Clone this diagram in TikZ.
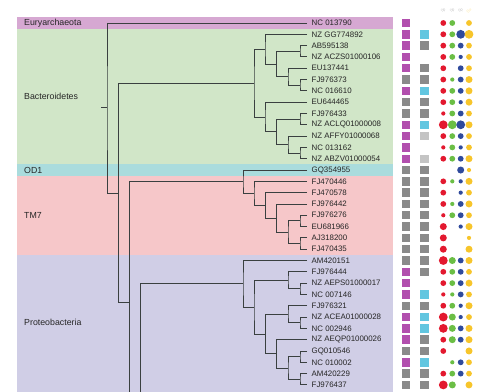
\documentclass[tikz,border=0pt]{standalone}
\usepackage{fontspec}
\setmainfont{Liberation Sans}
\usetikzlibrary{positioning}

\definecolor{bandEury}{HTML}{D6A8D2}
\definecolor{bandBact}{HTML}{D1E6C8}
\definecolor{bandOD}{HTML}{AADCDD}
\definecolor{bandTM}{HTML}{F6C7C9}
\definecolor{bandProt}{HTML}{D0CEE6}
\definecolor{treeline}{HTML}{3A4040}
\definecolor{sqM}{HTML}{B24FAE}
\definecolor{sqG}{HTML}{8A8A8A}
\definecolor{sqC}{HTML}{62C6E0}
\definecolor{sqL}{HTML}{C4C4C4}
\definecolor{dotred}{HTML}{E3192F}
\definecolor{dotgreen}{HTML}{6BBE45}
\definecolor{dotblue}{HTML}{2F4A9C}
\definecolor{dotyellow}{HTML}{F7C52B}

% one abundance dot: colour, x, row, size level 0..4
\newcommand\spot[4]{%
  \ifnum#4>0
    \pgfmathsetmacro\spotsize{{0,4.2,5.8,7.0,8.8}[#4]}%
    \node[circle, inner sep=0pt, fill=#1, minimum size=\spotsize pt] (d#1#3) at (#2,#3) {};%
  \fi}

\begin{document}
\begin{tikzpicture}[
  x=1pt, y=-11.31pt,
  branch/.style={draw=treeline, line width=0.9pt},
  leaf/.style={anchor=west, inner xsep=4.5pt, inner ysep=0pt, font=\fontsize{7.9}{8}\selectfont, text=black!85},
  clade/.style={anchor=west, inner sep=0pt, font=\fontsize{8.8}{10}\selectfont, text=black!85},
  sq/.style={minimum size=8.4pt, inner sep=0pt},
  hdr/.style={rotate=45, inner sep=0pt, font=\fontsize{4}{4}\selectfont},
]
  \clip (0,-2.034) rectangle (499,32.54);

  % colour bands
  \fill[bandEury] (17,-0.5) rectangle (393,0.5);
  \fill[bandBact] (17,0.5) rectangle (393,12.5);
  \fill[bandOD] (17,12.5) rectangle (393,13.5);
  \fill[bandTM] (17,13.5) rectangle (393,20.5);
  \fill[bandProt] (17,20.5) rectangle (393,33);

  \node[clade] (eury) at (24,0) {Euryarchaeota};
  \node[clade] (bact) at (24,6.5) {Bacteroidetes};
  \node[clade] (od1) at (24,13) {OD1};
  \node[clade] (tm7) at (24,17) {TM7};
  \node[clade] (prot) at (24,26.45) {Proteobacteria};

  % leaves
  \foreach \name [count=\i from 0] in {NC 013790, NZ GG774892, AB595138, NZ ACZS01000106,
      EU137441, FJ976373, NC 016610, EU644465, FJ976433, NZ ACLQ01000008,
      NZ AFFY01000068, NC 013162, NZ ABZV01000054, GQ354955, FJ470446,
      FJ470578, FJ976442, FJ976276, EU681966, AJ318200, FJ470435,
      AM420151, FJ976444, NZ AEPS01000017, NC 007146, FJ976321,
      NZ ACEA01000028, NC 002946, NZ AEQP01000026, GQ010546, NC 010002,
      AM420229, FJ976437}
    \node[leaf] (l\i) at (307,\i) {\name};

  % inner nodes
  \coordinate (a1) at (300,2.5);
  \coordinate (a2) at (300,5.5);
  \coordinate (a3) at (288,4.75);
  \coordinate (a4) at (276.7,3.625);
  \coordinate (a5) at (265,2.3125);
  \coordinate (a6) at (300,8.5);
  \coordinate (a7) at (300,11.5);
  \coordinate (a8) at (288,10.75);
  \coordinate (a9) at (276.7,9.625);
  \coordinate (a10) at (265,8.3125);
  \coordinate (a11) at (254,5.3125);
  \coordinate (t1) at (300,17.5);
  \coordinate (t2) at (300,19.5);
  \coordinate (t3) at (288,18.5);
  \coordinate (t4) at (276.7,17.25);
  \coordinate (t5) at (265.7,16.125);
  \coordinate (t6) at (254,15.0625);
  \coordinate (t7) at (243,14.03);
  \coordinate (p1) at (300,23.5);
  \coordinate (p2) at (288,22.75);
  \coordinate (p3) at (300,26.5);
  \coordinate (p4) at (288,25.75);
  \coordinate (p5) at (300,29.5);
  \coordinate (p6) at (300,31.5);
  \coordinate (p7) at (288,30.5);
  \coordinate (p8) at (276.7,29.25);
  \coordinate (p9) at (265.7,27.5);
  \coordinate (p10) at (254,25.125);
  \coordinate (p11) at (243,23.06);
  \coordinate (p12) at (140.7,35.45);
  \coordinate (hid) at (243,47.84);
  \coordinate (q) at (129.3,24.74);
  \coordinate (r) at (118.3,15.03);
  \coordinate (root) at (107,7.51);
  \coordinate (stem) at (101,7.51);

  \foreach \n/\a/\b in {a1/l2/l3, a2/l5/l6, a3/l4/a2, a4/a1/a3, a5/l1/a4,
      a6/l8/l9, a7/l11/l12, a8/l10/a7, a9/a6/a8, a10/l7/a9, a11/a5/a10,
      t1/l17/l18, t2/l19/l20, t3/t1/t2, t4/l16/t3, t5/l15/t4, t6/l14/t5, t7/l13/t6,
      p1/l23/l24, p2/l22/p1, p3/l26/l27, p4/l25/p3, p5/l29/l30, p6/l31/l32,
      p7/p5/p6, p8/l28/p7, p9/p4/p8, p10/p2/p9, p11/l21/p10, p12/p11/hid,
      q/t7/p12, r/a11/q, root/l0/r}
    \draw[branch] (\a) -| (\n) |- (\b);
  \draw[branch] (stem) -- (root);

  % sample squares
  \foreach \ca [count=\i from 0] in {M,M,M,M,M,G,M,G,G,M,M,M,M,G,G,G,G,G,G,G,G,G,M,M,M,G,M,M,M,G,M,G,G}
    \node[sq, fill=sq\ca] (sa\i) at (406,\i) {};
  \foreach \cb [count=\i from 0] in {N,C,G,N,G,G,C,G,G,C,L,N,L,G,G,G,G,G,G,G,G,G,G,N,C,G,C,C,G,G,C,G,G}
    {\if\cb N\else\node[sq, fill=sq\cb] (sb\i) at (424.3,\i) {};\fi}

  % dots
  \node[hdr, text=gray!45] (hr) at (443.3,-1.1) {Sp};
  \node[hdr, text=gray!45] (hg) at (452.3,-1.1) {Sp};
  \node[hdr, text=gray!45] (hb) at (460.7,-1.1) {Sp};
  \node[hdr, text=dotyellow!45] (hy) at (469,-1.1) {Su};
  \foreach \vr/\vg/\vb/\vy [count=\i from 0] in {2/2/0/2, 2/2/4/4, 2/2/2/2, 2/2/1/2,
      2/0/2/2, 2/1/2/3, 2/2/2/3, 2/2/1/3, 1/2/2/2, 4/4/4/3, 2/2/2/2, 1/2/1/2,
      2/2/2/3, 0/0/3/1, 2/1/1/3, 2/0/1/2, 2/1/2/3, 1/2/2/2, 3/0/1/3, 3/0/0/1,
      3/0/0/3, 4/3/2/3, 2/2/2/2, 2/2/2/3, 1/1/2/2, 2/2/1/3, 4/3/1/2, 4/3/2/3,
      2/3/2/3, 2/0/0/3, 0/1/2/2, 2/2/2/2, 4/3/0/3}
  {
    \spot{dotred}{443.3}{\i}{\vr}
    \spot{dotgreen}{452.3}{\i}{\vg}
    \spot{dotblue}{460.7}{\i}{\vb}
    \spot{dotyellow}{469}{\i}{\vy}
  }
\end{tikzpicture}
\end{document}
